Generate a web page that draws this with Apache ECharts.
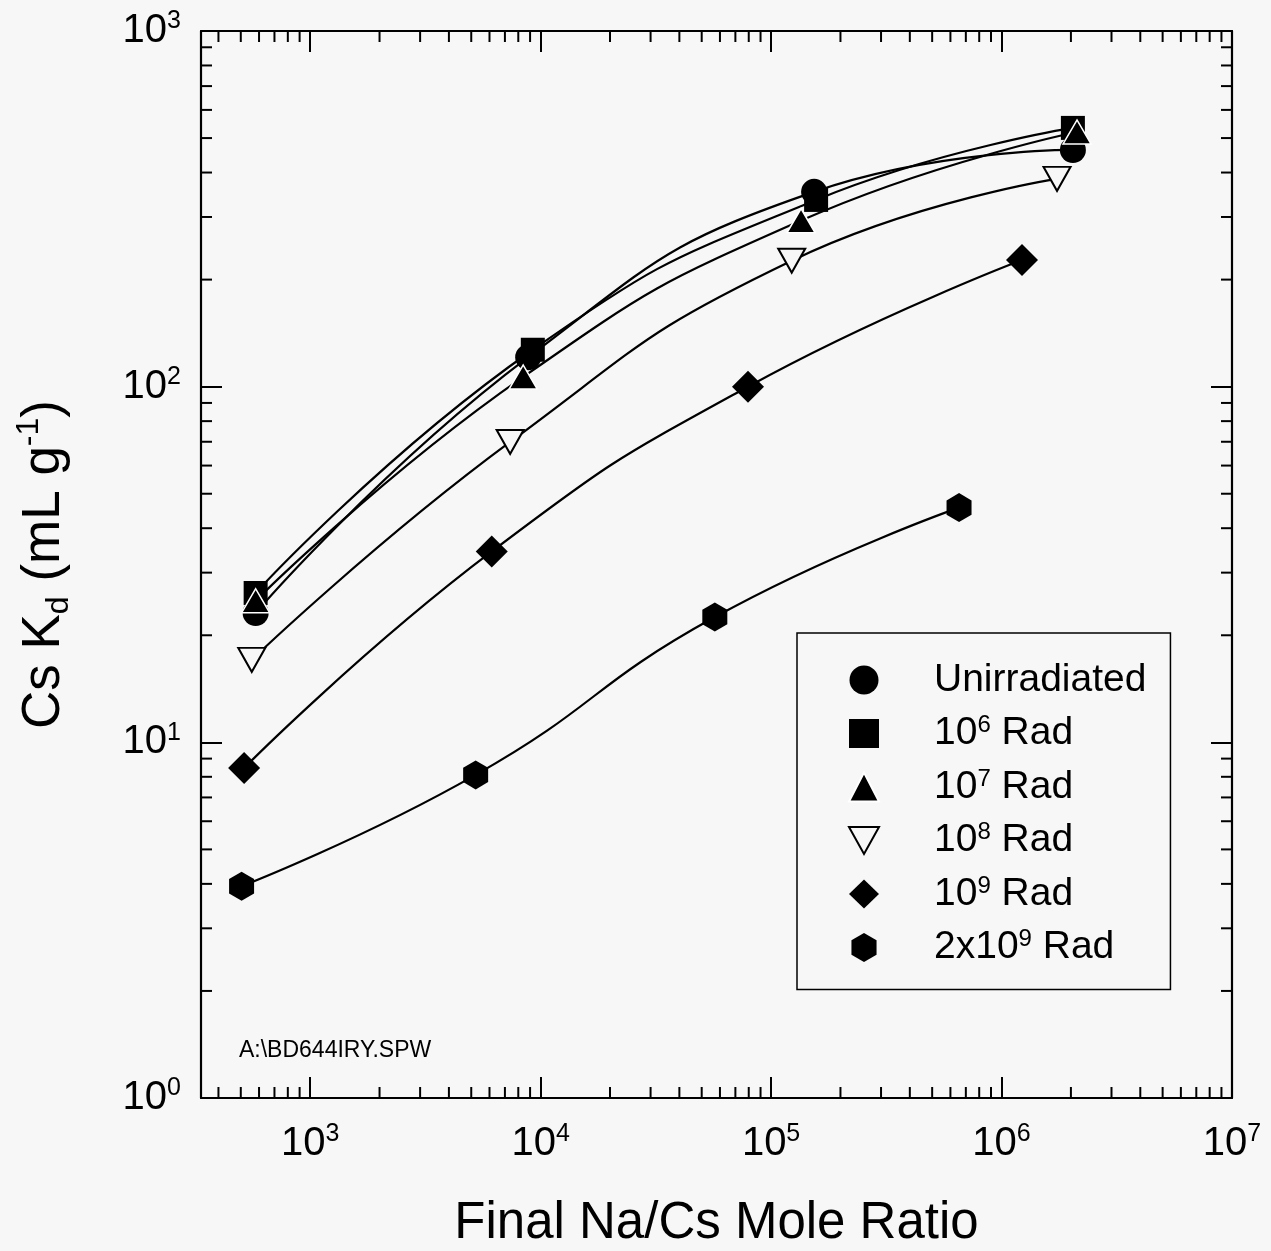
<!DOCTYPE html>
<html>
<head>
<meta charset="utf-8">
<script src="https://cdn.jsdelivr.net/npm/echarts@6/dist/echarts.min.js"></script>
<style>
  html, body { margin: 0; padding: 0; background: #f7f7f7; }
  #chart { width: 1271px; height: 1251px; }
</style>
</head>
<body>
<div id="chart"></div>
<script>
// Final Na/Cs mole ratio (x) and Cs Kd (y)
const unirrX = [580, 8830, 153700, 2040000];
const unirrY = [23.1, 121, 353, 463];
const rad6X = [580, 9250, 156800, 2040000];
const rad6Y = [26.3, 127, 335, 534];
const rad7X = [580, 8400, 134900, 2126000];
const rad7Y = [25.0, 106.5, 293, 520];
const rad8X = [558, 7375, 122900, 1741000];
const rad8Y = [17.05, 69.9, 226, 384];
const rad9X = [517, 6137, 79400, 1227000];
const rad9Y = [8.47, 34.4, 100, 227];
const rad2e9X = [504, 5225, 57000, 654000];
const rad2e9Y = [3.94, 8.1, 22.5, 45.7];

const seriesNames = ["Unirradiated", "10{s|6} Rad", "10{s|7} Rad", "10{s|8} Rad", "10{s|9} Rad", "2x10{s|9} Rad"];
const xMin = 336, xMax = 1e7;
const yMin = 1, yMax = 1000;

const FONT = "Arial, 'Liberation Sans', sans-serif";
const BG = "#f7f7f7";

function pairs(xs, ys) {
  return xs.map((x, i) => [x, ys[i]]);
}

// log-style minor ticks (2..9 of every decade)
const minorTicks = [];
for (let k = 2; k <= 6; k++) {
  for (let m = 2; m <= 9; m++) {
    const v = m * Math.pow(10, k);
    if (v > xMin && v < xMax) minorTicks.push([v, 10, 0]);
  }
}
for (let k = 0; k <= 2; k++) {
  for (let m = 2; m <= 9; m++) {
    minorTicks.push([1000, m * Math.pow(10, k), 1]);
  }
}

function powLabel(v) {
  const e = Math.log10(v);
  if (Math.abs(e - Math.round(e)) > 1e-6) return "";
  return "10{s|" + Math.round(e) + "}";
}

const labelRich = {
  s: { fontSize: 25, fontFamily: FONT, color: "#000", verticalAlign: "top", lineHeight: 26 },
};

function logAxis(pos, min, max, showLabel) {
  return {
    type: "log",
    logBase: 10,
    position: pos,
    min: min,
    max: max,
    axisLine: { show: true, lineStyle: { color: "#000", width: 2.2 } },
    axisTick: { show: true, inside: true, length: 21, lineStyle: { color: "#000", width: 2 } },
    splitLine: { show: false },
    minorTick: { show: false },
    axisLabel: {
      show: showLabel,
      formatter: powLabel,
      fontSize: 40,
      fontFamily: FONT,
      color: "#000",
      lineHeight: 44,
      margin: pos === "bottom" ? 24 : 20,
      rich: labelRich,
    },
  };
}

const mk = (name, xs, ys, symbol, size, itemStyle) => ({
  name: name,
  type: "line",
  data: pairs(xs, ys),
  smooth: 0.5,
  symbol: symbol,
  symbolSize: size,
  showAllSymbol: true,
  lineStyle: { color: "#000", width: 2.2 },
  itemStyle: itemStyle,
  emphasis: { disabled: true },
  z: 3,
});

const solid = { color: "#000" };
const hexPath = "path://M10,0L20,5.8L20,17.3L10,23.1L0,17.3L0,5.8Z";
const invTriPath = "path://M0,0L20,0L10,18Z";

const chart = echarts.init(document.getElementById("chart"));

const xBottom = logAxis("bottom", xMin, xMax, true);
xBottom.name = "Final Na/Cs Mole Ratio";
xBottom.nameLocation = "middle";
xBottom.nameGap = 100;
xBottom.nameTextStyle = { fontSize: 51, fontFamily: FONT, color: "#000" };

const yLeft = logAxis("left", yMin, yMax, true);
yLeft.name = "Cs K{sub|d} (mL g{sup|-1})";
yLeft.nameLocation = "middle";
yLeft.nameGap = 126;
yLeft.nameTextStyle = {
  fontSize: 53,
  fontFamily: FONT,
  color: "#000",
  lineHeight: 62,
  rich: {
    sub: { fontSize: 32, fontFamily: FONT, color: "#000", verticalAlign: "bottom", lineHeight: 32 },
    sup: { fontSize: 32, fontFamily: FONT, color: "#000", verticalAlign: "top", lineHeight: 32 },
  },
};

chart.setOption({
  backgroundColor: BG,
  animation: false,
  grid: { left: 201, right: 39, top: 31, bottom: 153, containLabel: false, outerBoundsMode: "none" },
  xAxis: [xBottom, logAxis("top", xMin, xMax, false)],
  yAxis: [yLeft, logAxis("right", yMin, yMax, false)],
  legend: {
    left: 797,
    top: 633,
    orient: "vertical",
    selectedMode: false,
    borderColor: "#000",
    borderWidth: 1.5,
    padding: [27, 24, 22, 51],
    itemWidth: 30,
    itemHeight: 29,
    itemGap: 13.5,
    data: [
      { name: seriesNames[0], icon: "circle" },
      { name: seriesNames[1], icon: "rect" },
      { name: seriesNames[2], icon: "triangle" },
      { name: seriesNames[3], icon: invTriPath },
      { name: seriesNames[4], icon: "diamond" },
      { name: seriesNames[5], icon: hexPath },
    ],
    textStyle: {
      fontSize: 39,
      fontFamily: FONT,
      color: "#000",
      lineHeight: 40,
      padding: [0, 0, 0, 50],
      rich: { s: { fontSize: 24, fontFamily: FONT, color: "#000", verticalAlign: "top", lineHeight: 24 } },
    },
  },
  graphic: [
    {
      type: "text",
      left: 239,
      top: 1039,
      style: { text: "A:\\BD644IRY.SPW", fontSize: 23, fontFamily: FONT, fill: "#000" },
    },
  ],
  series: [
    mk(seriesNames[0], unirrX, unirrY, "circle", 26, solid),
    mk(seriesNames[1], rad6X, rad6Y, "rect", 24, solid),
    mk(seriesNames[2], rad7X, rad7Y, "triangle", [28, 24], { color: "#000", borderColor: "#fff", borderWidth: 1.5 }),
    mk(seriesNames[3], rad8X, rad8Y, invTriPath, [27, 24], { color: BG, borderColor: "#000", borderWidth: 2 }),
    mk(seriesNames[4], rad9X, rad9Y, "diamond", [32, 32], solid),
    mk(seriesNames[5], rad2e9X, rad2e9Y, hexPath, [25, 29], solid),
    {
      type: "custom",
      name: "minorTicks",
      data: minorTicks,
      silent: true,
      clip: false,
      z: 4,
      renderItem: function (params, api) {
        const cs = params.coordSys;
        const p = api.coord([api.value(0), api.value(1)]);
        const st = { stroke: "#000", lineWidth: 2 };
        if (api.value(2) === 0) {
          const b = cs.y + cs.height;
          return {
            type: "group",
            children: [
              { type: "line", shape: { x1: p[0], y1: b, x2: p[0], y2: b - 11 }, style: st },
              { type: "line", shape: { x1: p[0], y1: cs.y, x2: p[0], y2: cs.y + 11 }, style: st },
            ],
          };
        }
        const r = cs.x + cs.width;
        return {
          type: "group",
          children: [
            { type: "line", shape: { x1: cs.x, y1: p[1], x2: cs.x + 11, y2: p[1] }, style: st },
            { type: "line", shape: { x1: r, y1: p[1], x2: r - 11, y2: p[1] }, style: st },
          ],
        };
      },
    },
  ],
});
</script>
</body>
</html>
